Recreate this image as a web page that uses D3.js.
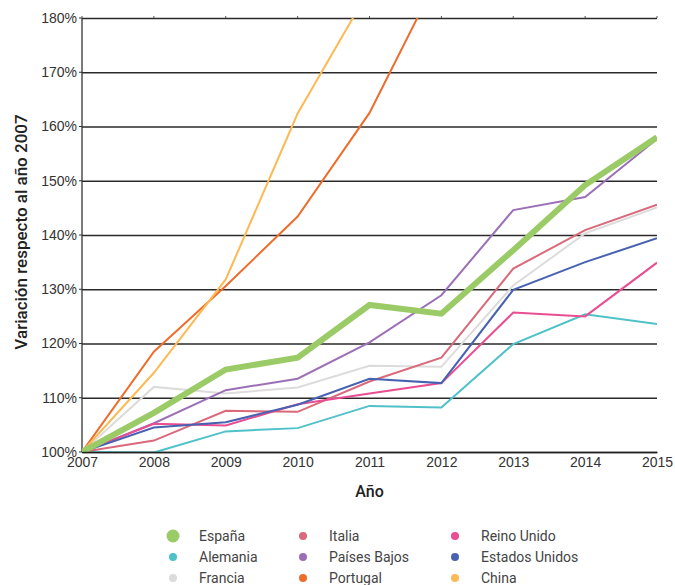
<!DOCTYPE html>
<html>
<head>
<meta charset="utf-8">
<script src="https://cdn.jsdelivr.net/npm/d3@7"></script>
<style>
  body { margin: 0; background: #fff; }
  svg { font-family: Roboto, "Noto Sans", sans-serif; }
</style>
</head>
<body>
<svg width="675" height="585"></svg>
<script>
// Years on the x axis
const years = [2007, 2008, 2009, 2010, 2011, 2012, 2013, 2014, 2015];
const yTicks = [100, 110, 120, 130, 140, 150, 160, 170, 180];

// Series values (% of 2007), null where the line has left the chart
const espana = [100, 107.2, 115.2, 117.4, 127.1, 125.5, 137.2, 149.2, 158.0];
const alemania = [100, 99.9, 103.8, 104.4, 108.5, 108.2, 119.9, 125.4, 123.6];
const francia = [100, 112.0, 110.8, 111.9, 115.9, 115.7, 130.7, 140.3, 145.1];
const italia = [100, 102.1, 107.6, 107.4, 113.0, 117.4, 133.8, 140.9, 145.6];
const paisesBajos = [100, 105.3, 111.4, 113.5, 120.2, 128.9, 144.6, 147.0, 157.7];
const portugal = [100, 118.5, 130.6, 143.4, 162.5, 188.8, null, null, null];
const reinoUnido = [100, 105.2, 104.9, 108.8, 110.8, 112.7, 125.7, 125.0, 134.9];
const estadosUnidos = [100, 104.5, 105.5, 108.7, 113.5, 112.7, 129.9, 135.0, 139.4];
const china = [100, 114.6, 131.8, 162.4, 185.3, null, null, null, null];

const series = [
  { name: "España", values: espana, color: "#9bcb67", width: 6, r: 6.5 },
  { name: "Alemania", values: alemania, color: "#4fc1c9", width: 2, r: 4 },
  { name: "Francia", values: francia, color: "#dcdcdc", width: 2, r: 4 },
  { name: "Italia", values: italia, color: "#d9697b", width: 2, r: 4 },
  { name: "Países Bajos", values: paisesBajos, color: "#9b70b6", width: 2, r: 4 },
  { name: "Portugal", values: portugal, color: "#ee6d2b", width: 2, r: 4 },
  { name: "Reino Unido", values: reinoUnido, color: "#e94d92", width: 2, r: 4 },
  { name: "Estados Unidos", values: estadosUnidos, color: "#4862b1", width: 2, r: 4 },
  { name: "China", values: china, color: "#fdb953", width: 2, r: 4 }
];

const svg = d3.select("svg");
const margin = { top: 18, right: 18, bottom: 133, left: 82 };
const width = 675 - margin.left - margin.right;
const height = 585 - margin.top - margin.bottom;

const chart = svg.append("g")
    .attr("transform", `translate(${margin.left}, ${margin.top})`);

const x = d3.scalePoint()
    .domain(years)
    .range([0, width]);

const y = d3.scaleLinear()
    .domain([100, 180])
    .range([height, 0]);

// Horizontal gridlines with percent labels
const yAxis = chart.append("g")
    .call(d3.axisLeft(y).tickValues(yTicks).tickSize(-width).tickPadding(5).tickFormat(d => d + "%"));
yAxis.select(".domain").remove();
yAxis.selectAll(".tick line").attr("stroke", "#2a2a2a").attr("stroke-width", 1.3);
yAxis.selectAll(".tick text").attr("fill", "#333").attr("font-size", 14);

// Little ticks on the left edge
chart.append("g")
  .selectAll("line")
  .data(yTicks)
  .enter().append("line")
    .attr("x1", -3).attr("x2", 0)
    .attr("y1", d => y(d)).attr("y2", d => y(d))
    .attr("stroke", "#333");

// Left axis line
chart.append("line")
    .attr("x1", 0).attr("x2", 0)
    .attr("y1", 0).attr("y2", height)
    .attr("stroke", "#333").attr("stroke-width", 1.3);

// Small ticks on top line
chart.append("g")
  .selectAll("line")
  .data(years)
  .enter().append("line")
    .attr("x1", d => x(d)).attr("x2", d => x(d))
    .attr("y1", -2).attr("y2", 0)
    .attr("stroke", "#555");

// Clip for lines that run off the top
svg.append("defs").append("clipPath")
    .attr("id", "plot-clip")
  .append("rect")
    .attr("x", 0).attr("y", 0)
    .attr("width", width).attr("height", height);

const line = d3.line()
    .defined(d => d != null)
    .x((d, i) => x(years[i]))
    .y(d => y(d));

const drawOrder = series.slice(1).concat(series.slice(0, 1));

chart.append("g")
    .attr("clip-path", "url(#plot-clip)")
  .selectAll(".series")
  .data(drawOrder)
  .enter().append("path")
    .attr("class", "series")
    .attr("fill", "none")
    .attr("stroke", d => d.color)
    .attr("stroke-width", d => d.width)
    .attr("stroke-linejoin", "miter")
    .attr("d", d => line(d.values));

// Bottom axis
const xAxis = chart.append("g")
    .attr("transform", `translate(0, ${height})`)
    .call(d3.axisBottom(x).tickSize(0).tickPadding(5));
xAxis.select(".domain").attr("stroke", "#222").attr("stroke-width", 1.5);
xAxis.selectAll(".tick text").attr("fill", "#333").attr("font-size", 14);

// Axis titles
svg.append("text")
    .attr("x", margin.left + width / 2)
    .attr("y", 497)
    .attr("text-anchor", "middle")
    .attr("font-size", 16)
    .attr("font-weight", 500)
    .attr("fill", "#222")
    .text("Año");

svg.append("text")
    .attr("transform", "translate(27, 232) rotate(-90)")
    .attr("text-anchor", "middle")
    .attr("font-size", 17)
    .attr("font-weight", 500)
    .attr("fill", "#222")
    .text("Variación respecto al año 2007");

// Legend, 3 columns filled column by column
const legendCols = [173, 303, 455];
const legendRows = [536, 557, 578];
const legend = svg.append("g")
  .selectAll(".legend-item")
  .data(series)
  .enter().append("g")
    .attr("class", "legend-item")
    .attr("transform", (d, i) => `translate(${legendCols[Math.floor(i / 3)]}, ${legendRows[i % 3]})`);

legend.append("circle")
    .attr("r", d => d.r)
    .attr("fill", d => d.color);

legend.append("text")
    .attr("x", 26)
    .attr("dy", "0.35em")
    .attr("font-size", 14)
    .attr("fill", "#444")
    .text(d => d.name);
</script>
</body>
</html>
